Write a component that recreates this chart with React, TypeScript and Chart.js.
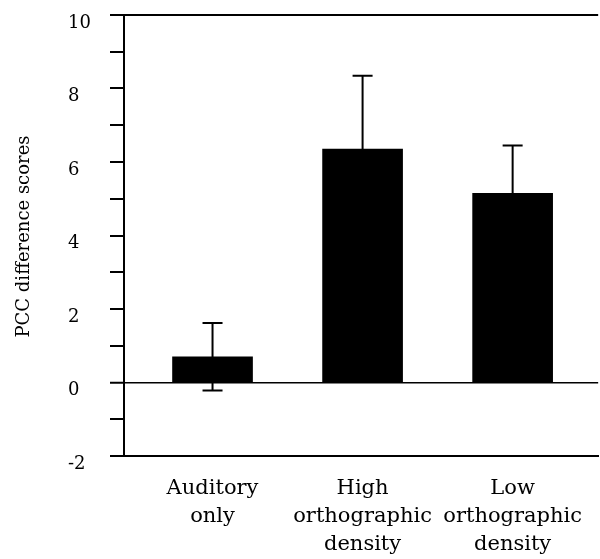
import { useEffect, useRef } from "react";
import { Chart, registerables } from "chart.js";

Chart.register(...registerables);

const categories: string[][] = [
  ["Auditory", "only"],
  ["High", "orthographic", "density"],
  ["Low", "orthographic", "density"],
];
const categoryPositions = [1, 2, 3];
const means = [0.7, 6.35, 5.15];
const errors = [0.92, 2.0, 1.3];
const yTickValues = [-2, -1, 0, 1, 2, 3, 4, 5, 6, 7, 8, 9, 10];
const yTickLabels = ["-2", "", "0", "", "2", "", "4", "", "6", "", "8", "", "10"];
const yTitle = "PCC difference scores";

const FONT = "'DejaVu Serif', 'Liberation Serif', serif";

const errorBarPlugin = {
  id: "errorBars",
  afterDatasetsDraw(chart: any) {
    const { ctx } = chart;
    const xs = chart.scales.x;
    const ys = chart.scales.y;
    ctx.save();
    ctx.strokeStyle = "#000";
    ctx.lineWidth = 2;
    categoryPositions.forEach((p, i) => {
      const x = xs.getPixelForValue(p);
      const yTop = ys.getPixelForValue(means[i] + errors[i]);
      const yBot = ys.getPixelForValue(means[i] - errors[i]);
      const cap = 10;
      ctx.beginPath();
      ctx.moveTo(x, yBot);
      ctx.lineTo(x, yTop);
      ctx.moveTo(x - cap, yTop);
      ctx.lineTo(x + cap, yTop);
      ctx.moveTo(x - cap, yBot);
      ctx.lineTo(x + cap, yBot);
      ctx.stroke();
    });
    ctx.restore();
  },
};

const titlePlugin = {
  id: "yTitle",
  afterDraw(chart: any) {
    const { ctx, chartArea } = chart;
    ctx.save();
    ctx.translate(24, (chartArea.top + chartArea.bottom) / 2 + 1);
    ctx.rotate(-Math.PI / 2);
    ctx.fillStyle = "#000";
    ctx.font = `18px ${FONT}`;
    ctx.textAlign = "center";
    ctx.textBaseline = "middle";
    ctx.fillText(yTitle, 0, 0);
    ctx.restore();
  },
};

export default function App() {
  const ref = useRef<HTMLCanvasElement>(null);
  useEffect(() => {
    document.body.style.margin = "0";
    const chart = new Chart(ref.current as HTMLCanvasElement, {
      type: "bar",
      data: {
        datasets: [
          {
            data: categoryPositions.map((x, i) => ({ x, y: means[i] })) as any,
            backgroundColor: "#000",
            borderWidth: 0,
            barThickness: 80,
          },
        ],
      },
      options: {
        responsive: false,
        animation: false,
        layout: { padding: { left: 68, top: 15, right: 0, bottom: 0 } },
        plugins: { legend: { display: false }, tooltip: { enabled: false } },
        scales: {
          x: {
            type: "linear",
            offset: false,
            min: 0.41,
            max: 3.57,
            grid: { display: false, drawTicks: false, offset: false },
            border: { display: true, color: "#000", width: 2 },
            afterBuildTicks: (s: any) => {
              s.ticks = categoryPositions.map((v) => ({ value: v }));
            },
            afterFit: (s: any) => {
              s.height = 103;
            },
            ticks: {
              autoSkip: false,
              maxRotation: 0,
              padding: 18,
              color: "#000",
              font: { family: FONT, size: 21, lineHeight: 1.35 },
              callback: (v: any) => {
                const i = categoryPositions.indexOf(Number(v));
                return i >= 0 ? categories[i] : "";
              },
            },
          },
          y: {
            type: "linear",
            min: -2,
            max: 10,
            afterFit: (s: any) => {
              s.width = 56;
            },
            afterBuildTicks: (s: any) => {
              s.ticks = yTickValues.map((v) => ({ value: v }));
            },
            grid: {
              drawOnChartArea: true,
              color: (c: any) =>
                c.tick && (c.tick.value === 0 || c.tick.value === 10) ? "#000" : "rgba(0,0,0,0)",
              lineWidth: (c: any) => (c.tick && c.tick.value === 0 ? 1.5 : 2),
              tickColor: "#000",
              tickLength: 14,
              tickWidth: 2,
            },
            border: { display: true, color: "#000", width: 2 },
            ticks: {
              crossAlign: "far",
              labelOffset: 8,
              color: "#000",
              font: { family: FONT, size: 18 },
              callback: (v: any) => {
                const i = yTickValues.indexOf(Number(v));
                return i >= 0 ? yTickLabels[i] : "";
              },
            },
          },
        },
      } as any,
      plugins: [errorBarPlugin, titlePlugin],
    });
    return () => chart.destroy();
  }, []);
  return <canvas ref={ref} width={600} height={559} style={{ display: "block" }} />;
}
